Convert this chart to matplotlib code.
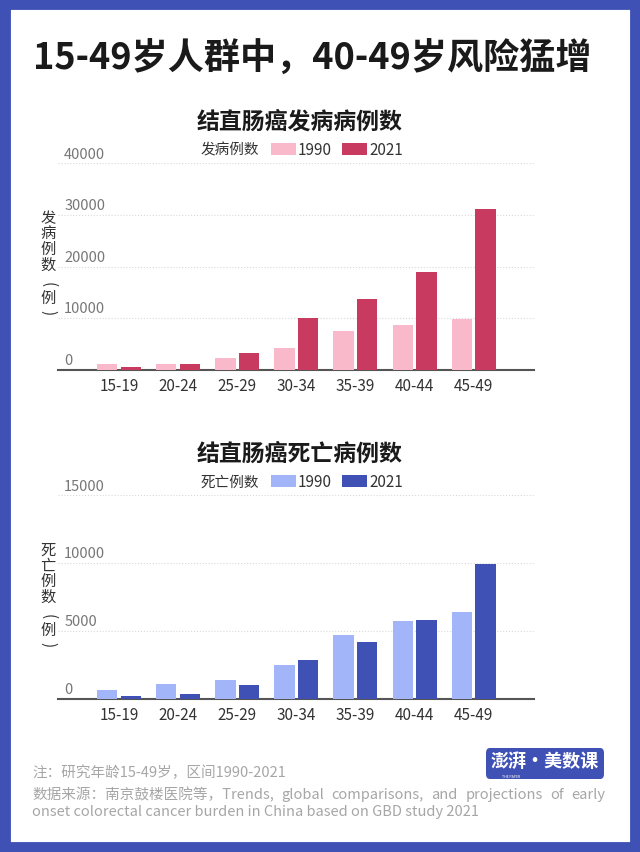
import numpy as np
import matplotlib
matplotlib.use('Agg')
import matplotlib.pyplot as plt
from matplotlib.patches import Rectangle, FancyBboxPatch
import matplotlib.transforms as mtransforms

plt.rcParams['font.family'] = ['Noto Sans CJK SC', 'DejaVu Sans']

# data
ages = ['15-19', '20-24', '25-29', '30-34', '35-39', '40-44', '45-49']
inc_1990 = [1100, 1100, 2330, 4140, 7570, 8740, 9770]
inc_2021 = [600, 1050, 3170, 9970, 13660, 18970, 31200]
death_1990 = [660, 1100, 1420, 2475, 4680, 5710, 6400]
death_2021 = [196, 343, 1005, 2870, 4215, 5810, 9975]
inc_ticks = [0, 10000, 20000, 30000, 40000]
death_ticks = [0, 5000, 10000, 15000]

pink = ['#f9b9cb', '#c93a60']
blue = ['#a1b5f8', '#3f51b5']
border = '#3f51b5'

W, H = 640, 853
fig = plt.figure(figsize=(W / 100, H / 100), dpi=100)
fig.patch.set_facecolor('white')


def fx(px):
    return px / W


def fy(py):
    return 1 - py / H


# blue frame
fig.patches.append(Rectangle((0, 0), 1, 1, transform=fig.transFigure,
                             facecolor='none', edgecolor=border, linewidth=15))

fig.text(fx(312), fy(59), '15-49岁人群中，40-49岁风险猛增', fontsize=26,
         fontweight='bold', ha='center', va='center', color='#1a1a1a')


def panel(top, base, vals1, vals2, ticks, colors, title, legend_txt, ylabel):
    ax = fig.add_axes([fx(58), fy(base), fx(534 - 58), (base - top) / H])
    x = np.arange(len(ages))
    ax.bar(x - 0.2, vals1, width=0.345, color=colors[0], zorder=3)
    ax.bar(x + 0.2, vals2, width=0.345, color=colors[1], zorder=3)
    ax.set_xlim(-1.03, 7.02)
    ax.set_ylim(0, ticks[-1])
    ax.set_xticks(x)
    ax.set_xticklabels(ages, fontsize=11, color='#333333')
    ax.tick_params(axis='x', length=0, pad=5)
    ax.set_yticks([])
    for t in ticks[1:]:
        ax.axhline(t, color='#d9d9d9', linestyle=':', linewidth=0.8, zorder=1)
    off = mtransforms.offset_copy(ax.transData, fig=fig, x=0, y=2, units='points')
    blend = mtransforms.blended_transform_factory(ax.transAxes, off)
    for t in ticks:
        ax.text(0.013, t, str(t), transform=blend, fontsize=10.5, color='#777777',
                ha='left', va='bottom')
    for s in ['top', 'right', 'left']:
        ax.spines[s].set_visible(False)
    ax.spines['bottom'].set_color('#555555')
    ax.spines['bottom'].set_linewidth(1.5)

    # panel title
    fig.text(fx(300), fy(top - 42), title, fontsize=16.5, fontweight='bold',
             ha='center', va='center', color='#1a1a1a')
    # legend
    ly = top - 14
    fig.text(fx(230), fy(ly), legend_txt, fontsize=10.5, ha='center', va='center',
             color='#333333')
    for (x0, lab, c) in [(271, '1990', colors[0]), (342, '2021', colors[1])]:
        fig.patches.append(Rectangle((fx(x0), fy(ly + 6)), fx(25), 12 / H,
                                     transform=fig.transFigure, facecolor=c))
        fig.text(fx(x0 + 27), fy(ly), lab, fontsize=11, ha='left', va='center',
                 color='#333333')
    # vertical y label, brackets turned like vertical writing
    ys = [0, 15.6, 31.2, 46.8, 66, 80.5, 94]
    for ch, dy in zip(ylabel, ys):
        rot = -90 if ch in '()' else 0
        fig.text(fx(48), fy(top + 54 + dy), ch, fontsize=11, ha='center',
                 va='center', color='#333333', rotation=rot,
                 rotation_mode='anchor')
    return ax


panel(164.3, 370.7, inc_1990, inc_2021, inc_ticks, pink,
      '结直肠癌发病病例数', '发病例数', ['发', '病', '例', '数', '(', '例', ')'])
panel(496.3, 700, death_1990, death_2021, death_ticks, blue,
      '结直肠癌死亡病例数', '死亡例数', ['死', '亡', '例', '数', '(', '例', ')'])

# footnotes
gray = '#a6a6a6'
fig.text(fx(32), fy(773), '注：研究年龄15-49岁，区间1990-2021', fontsize=10.5,
         color=gray, ha='left', va='center')
words = '数据来源：南京鼓楼医院等，Trends, global comparisons, and projections of early'.split(' ')
fig.canvas.draw()
r = fig.canvas.get_renderer()
objs = [fig.text(0, fy(795), w, fontsize=10.5, color=gray, ha='left', va='center')
        for w in words]
widths = [o.get_window_extent(renderer=r).width for o in objs]
gap = ((605 - 32) - sum(widths)) / (len(words) - 1)
xpos = 32
for o, w in zip(objs, widths):
    o.set_x(fx(xpos))
    xpos += w + gap
fig.text(fx(32), fy(812), 'onset colorectal cancer burden in China based on GBD study 2021',
         fontsize=10.5, color=gray, ha='left', va='center')

# logo
fig.patches.append(FancyBboxPatch((fx(486), fy(780)), fx(118), 31 / H,
                                  boxstyle='round,pad=0,rounding_size=0.006',
                                  transform=fig.transFigure, facecolor=border,
                                  edgecolor='none'))
fig.text(fx(545), fy(762), '澎湃·美数课', fontsize=13, fontweight='bold',
         color='white', ha='center', va='center')
fig.text(fx(511), fy(777), 'THE PAPER', fontsize=2.5, color='white',
         ha='center', va='center')

fig.savefig('out.png', dpi=100)
